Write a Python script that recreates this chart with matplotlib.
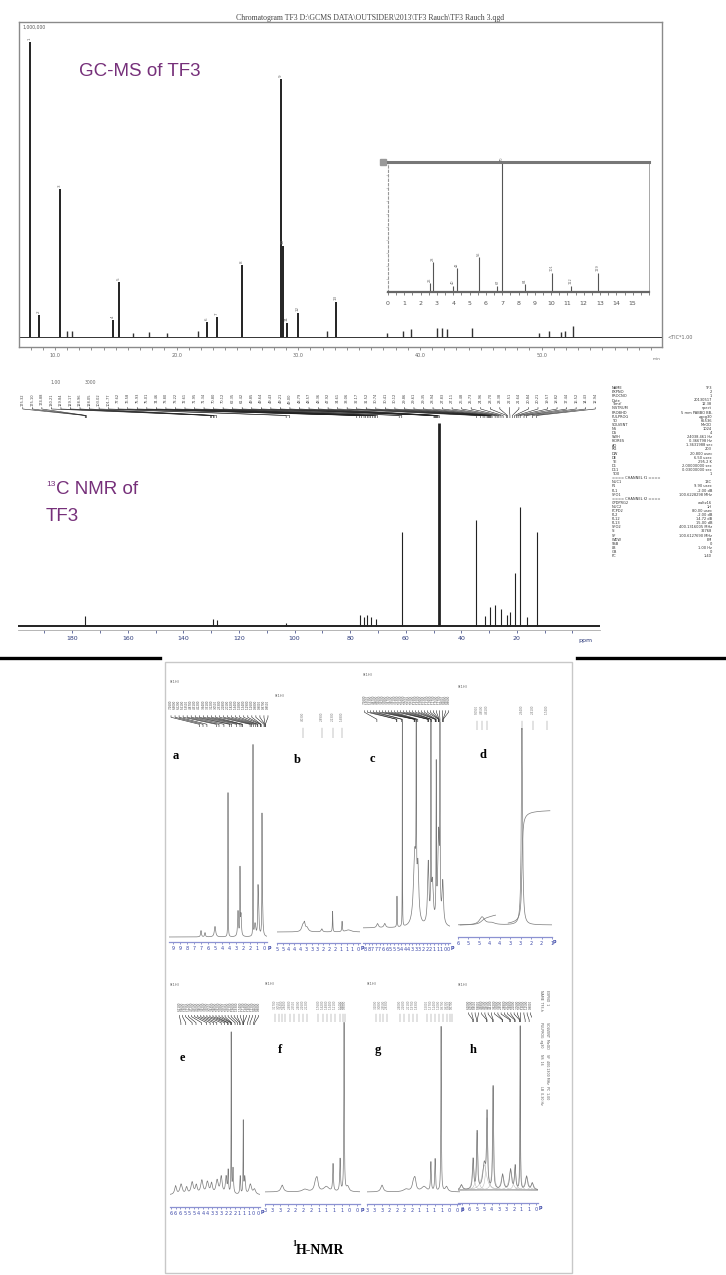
import numpy as np
import matplotlib.pyplot as plt
from matplotlib.lines import Line2D
from matplotlib.patches import Rectangle
from matplotlib.ticker import MultipleLocator, FormatStrFormatter

plt.rcParams['font.family'] = ['DejaVu Sans']

W, H = 726, 1275
PURPLE = '#76307a'
BLUE = '#3b47a8'
GREY = '#7a7a7a'
NARROW = ['Liberation Sans Narrow', 'Liberation Sans', 'DejaVu Sans']
SERIF = ['Liberation Serif', 'DejaVu Serif']

# GC-MS chromatogram: retention time (min) and relative height of the numbered peaks
gc_time = [7.95, 8.69, 10.41, 14.77, 15.26, 22.49, 23.31, 25.37, 28.57, 28.73, 29.06, 29.97, 33.09]
gc_height = [0.937, 0.07, 0.47, 0.054, 0.175, 0.048, 0.063, 0.23, 0.82, 0.29, 0.044, 0.076, 0.11]
# small baseline bumps of the chromatogram
gc_minor_time = [11.0, 11.4, 16.4, 17.7, 19.2, 21.8, 32.4, 37.3, 38.6, 39.3, 41.4, 41.8, 42.2,
                 44.3, 49.8, 50.6, 51.6, 51.9, 52.6]
gc_minor_height = [0.02, 0.018, 0.012, 0.015, 0.012, 0.02, 0.02, 0.012, 0.02, 0.025, 0.03, 0.03,
                   0.025, 0.028, 0.012, 0.018, 0.015, 0.02, 0.035]

# inset mass spectrum
ms_mz = [2.55, 2.76, 4.0, 4.23, 5.58, 6.7, 7.0, 8.4, 10.06, 11.2, 12.86]
ms_int = [0.07, 0.23, 0.05, 0.185, 0.27, 0.05, 1.0, 0.06, 0.15, 0.05, 0.15]
ms_tick_labels = ['0', '1', '2', '3', '4', '5', '6', '7', '8', '9', '10', '11', '12', '13', '14', '15']

# 13C NMR spectrum
c13_ppm = [175.3, 129.2, 128.0, 103.0, 76.6, 75.0, 73.8, 72.6, 70.8, 61.4, 47.9, 34.6, 31.5,
           29.6, 27.8, 25.7, 23.4, 22.5, 20.8, 18.8, 16.5, 12.9]
c13_height = [0.05, 0.035, 0.03, 0.015, 0.055, 0.045, 0.055, 0.045, 0.035, 0.45, 0.976, 0.51,
              0.05, 0.09, 0.1, 0.08, 0.055, 0.065, 0.255, 0.57, 0.045, 0.45]
c13_labels = [175.32, 175.10, 174.88, 130.21, 129.84, 129.17, 128.96, 128.05, 103.02, 101.77,
              77.62, 76.58, 75.93, 75.01, 74.46, 73.80, 73.22, 72.61, 71.95, 71.34, 70.80, 70.12,
              62.35, 61.42, 49.85, 49.64, 49.43, 49.21, 49.00, 48.79, 48.57, 48.36, 47.92, 34.61,
              33.06, 32.17, 31.52, 30.74, 30.41, 30.12, 29.86, 29.61, 29.35, 28.94, 27.83, 27.11,
              26.48, 25.73, 24.96, 23.70, 23.38, 22.51, 21.64, 20.84, 20.21, 19.57, 18.82, 17.44,
              16.52, 14.43, 12.94]
c13_param_names = ['NAME', 'EXPNO', 'PROCNO', 'Date_', 'Time', 'INSTRUM', 'PROBHD', 'PULPROG',
                   'TD', 'SOLVENT', 'NS', 'DS', 'SWH', 'FIDRES', 'AQ', 'RG', 'DW', 'DE', 'TE',
                   'D1', 'D11', 'TD0', '==== CHANNEL f1 ====', 'NUC1', 'P1', 'PL1', 'SFO1',
                   '==== CHANNEL f2 ====', 'CPDPRG2', 'NUC2', 'PCPD2', 'PL2', 'PL12', 'PL13',
                   'SFO2', 'SI', 'SF', 'WDW', 'SSB', 'LB', 'GB', 'PC']
c13_param_values = ['TF3', '2', '1', '20130517', '12.38', 'spect', '5 mm PABBO BB-', 'zgpg30',
                    '65536', 'MeOD', '1024', '4', '24038.461 Hz', '0.366798 Hz', '1.3631988 sec',
                    '203', '20.800 usec', '6.50 usec', '295.2 K', '2.00000000 sec',
                    '0.03000000 sec', '1', '', '13C', '9.90 usec', '-2.00 dB', '100.6228298 MHz',
                    '', 'waltz16', '1H', '80.00 usec', '-2.00 dB', '14.72 dB', '15.00 dB',
                    '400.1316005 MHz', '32768', '100.6127690 MHz', 'EM', '0', '1.00 Hz', '0', '1.40']

# 1H NMR panels a-h: peak shift (ppm), height, half width (ppm)
a_ppm = [7.0, 6.6, 5.6, 4.3, 3.3, 3.1, 3.0, 1.8, 1.6, 1.3, 1.25, 0.9, 0.85]
a_hgt = [0.03, 0.02, 0.05, 0.69, 0.12, 0.31, 0.10, 0.91, 0.06, 0.17, 0.12, 0.51, 0.15]
a_wid = [0.05, 0.05, 0.08, 0.015, 0.05, 0.02, 0.05, 0.01, 0.08, 0.03, 0.06, 0.015, 0.05]
a_labels = [7.26, 6.90, 6.52, 5.61, 5.35, 4.87, 4.31, 4.12, 3.64, 3.31, 3.12, 3.05, 2.33, 2.18,
            2.01, 1.82, 1.64, 1.58, 1.34, 1.29, 1.26, 0.98, 0.90, 0.87, 0.85]

b_ppm = [4.05, 3.95, 3.8, 2.9, 2.25, 1.68, 1.3]
b_hgt = [0.03, 0.035, 0.02, 0.015, 0.10, 0.05, 0.01]
b_wid = [0.08, 0.05, 0.1, 0.05, 0.015, 0.02, 0.2]
b_labels = [4.03, 2.89, 2.23, 1.68]

c_ppm = [7.2, 6.5, 5.32, 4.8, 3.6, 3.46, 3.3, 2.3, 2.04, 1.9, 1.53, 1.3, 1.17, 0.9]
c_hgt = [0.02, 0.02, 0.15, 1.3, 0.35, 1.3, 0.25, 0.3, 1.3, 0.2, 0.72, 0.45, 1.3, 0.2]
c_wid = [0.1, 0.1, 0.02, 0.01, 0.15, 0.015, 0.1, 0.08, 0.015, 0.1, 0.02, 0.1, 0.015, 0.08]
c_labels = [7.26, 5.35, 5.33, 4.87, 4.80, 3.66, 3.62, 3.58, 3.47, 3.45, 3.31, 2.33, 2.31, 2.29,
            2.05, 2.03, 2.01, 1.63, 1.61, 1.59, 1.53, 1.31, 1.29, 1.27, 1.25, 1.17, 0.90, 0.88, 0.86]

d_ppm = [4.85, 4.4, 2.94]
d_hgt = [0.04, 0.01, 1.0]
d_wid = [0.15, 0.2, 0.035]
d_labels = [5.09, 4.85, 4.61, 2.94, 2.41, 1.74]

e_ppm = [6.6, 6.2, 5.8, 5.4, 5.1, 4.7, 4.3, 4.0, 3.6, 3.3, 2.95, 2.8, 2.58, 2.45, 1.93, 1.71, 1.6, 1.2, 0.9]
e_hgt = [0.05, 0.06, 0.04, 0.07, 0.05, 0.08, 0.07, 0.06, 0.08, 0.1, 0.1, 0.13, 0.94, 0.15, 0.106, 0.42, 0.1, 0.06, 0.03]
e_wid = [0.08, 0.1, 0.08, 0.1, 0.08, 0.1, 0.1, 0.08, 0.1, 0.08, 0.06, 0.03, 0.012, 0.04, 0.03, 0.015, 0.05, 0.1, 0.1]
e_labels = [6.21, 5.86, 5.40, 5.12, 4.72, 4.35, 4.10, 3.85, 3.62, 3.30, 3.05, 2.84, 2.80, 2.62,
            2.58, 2.55, 2.30, 2.12, 1.96, 1.93, 1.74, 1.71, 1.68, 1.40, 1.22, 0.96, 0.88]

f_ppm = [2.94, 2.2, 1.85, 1.8, 1.5, 1.28, 1.05, 0.92, 0.8]
f_hgt = [0.04, 0.015, 0.05, 0.06, 0.03, 0.16, 0.19, 0.99, 0.03]
f_wid = [0.05, 0.1, 0.05, 0.04, 0.1, 0.015, 0.015, 0.01, 0.05]
f_labels = [3.17, 3.05, 2.94, 2.84, 2.68, 2.55, 2.40, 2.26, 2.12, 1.76, 1.62, 1.48, 1.34, 1.21,
            1.04, 0.96, 0.88]

g_ppm = [3.0, 2.2, 1.95, 1.9, 1.6, 1.37, 1.23, 1.03, 0.85]
g_hgt = [0.04, 0.015, 0.05, 0.06, 0.03, 0.17, 0.19, 0.97, 0.03]
g_wid = [0.05, 0.1, 0.05, 0.04, 0.1, 0.015, 0.015, 0.01, 0.05]
g_labels = [3.20, 3.08, 2.95, 2.83, 2.40, 2.26, 2.11, 1.97, 1.83, 1.50, 1.37, 1.24, 1.10, 0.97,
            0.83, 0.75, 0.67]

h_ppm = [7.2, 6.18, 5.83, 5.2, 4.96, 4.43, 3.6, 2.9, 2.5, 2.06, 1.5, 1.0]
h_hgt = [0.03, 0.18, 0.34, 0.15, 0.43, 0.61, 0.09, 0.12, 0.14, 0.97, 0.08, 0.04]
h_wid = [0.1, 0.06, 0.05, 0.15, 0.05, 0.04, 0.1, 0.1, 0.06, 0.02, 0.1, 0.1]
h_labels = [6.20, 6.15, 5.85, 5.80, 4.98, 4.95, 4.45, 4.41, 3.62, 3.58, 2.95, 2.88, 2.52, 2.48,
            2.10, 2.06, 2.02, 1.60, 1.25, 0.90]
h_params = ['NAME  TF3-h', 'EXPNO  1', 'PULPROG  zg30', 'SOLVENT  MeOD', 'NS  16',
            'SF  400.1300 MHz', 'LB  0.30 Hz', 'PC  1.00']


fig = plt.figure(figsize=(W / 100, H / 100), dpi=100)


def axes_px(x0, y0, x1, y1):
    ax = fig.add_axes([x0 / W, 1 - y1 / H, (x1 - x0) / W, (y1 - y0) / H])
    ax.patch.set_alpha(0)
    return ax


def text_px(x, y, s, **kw):
    fig.text(x / W, 1 - y / H, s, **kw)


# ---------------- GC-MS chromatogram ----------------
text_px(370, 18, r'Chromatogram TF3 D:\GCMS DATA\OUTSIDER\2013\TF3 Rauch\TF3 Rauch 3.qgd',
        fontsize=5.6, family=SERIF, color='#444444', ha='center', va='center')
gc = axes_px(19, 22, 662, 347)
gc.set_xlim(7.05, 59.9)
gc.set_ylim(-10 / 315, 1)
gc.axhline(0, color='#333333', lw=0.7)
gc.vlines(gc_minor_time, 0, gc_minor_height, color='#333333', lw=1.0)
gc.vlines(gc_time, 0, gc_height, color='#111111', lw=1.3)
for i, (t, h) in enumerate(zip(gc_time, gc_height)):
    gc.text(t, h + 0.006, str(i + 1), rotation=90, fontsize=3, ha='center', va='bottom', color='#666666')
for s in gc.spines.values():
    s.set_color('#8a8a8a')
    s.set_linewidth(1.0)
gc.set_yticks([])
gc.xaxis.set_major_locator(MultipleLocator(10))
gc.xaxis.set_minor_locator(MultipleLocator(1))
gc.xaxis.set_major_formatter(FormatStrFormatter('%.1f'))
gc.tick_params(axis='x', which='both', direction='out', length=2.5, width=0.5,
               labelsize=3.5, pad=1.5, colors='#666666')
gc.text(0.005, 0.993, '1,000,000', transform=gc.transAxes, fontsize=3.3, va='top', color='#555555')
text_px(668, 337, '<TIC*1.00', fontsize=3.5, va='center', color='#666666')
text_px(657, 359, 'min', fontsize=3, ha='center', va='center', color='#666666')
text_px(79, 72, 'GC-MS of TF3', fontsize=13.5, family=NARROW, color=PURPLE, va='center')

ins = axes_px(388, 162, 649, 292)
ins.set_xlim(0, 16)
ins.set_ylim(0, 1)
ins.vlines(ms_mz, 0, ms_int, color='#555555', lw=0.8)
for m, v in zip(ms_mz, ms_int):
    if v > 0.04:
        ins.text(m, v + 0.01, f'{m * 10:.0f}', rotation=90, fontsize=2.5, ha='center',
                 va='bottom', color='#666666')
ins.spines['top'].set_linewidth(2.2)
ins.spines['top'].set_color('#777777')
ins.spines['bottom'].set_linewidth(1.6)
ins.spines['bottom'].set_color('#666666')
ins.spines['right'].set_linewidth(0.6)
ins.spines['right'].set_color('#999999')
ins.spines['left'].set_linestyle((0, (2, 2)))
ins.spines['left'].set_color('#999999')
ins.set_xticks(range(16))
ins.set_xticklabels(ms_tick_labels)
ins.xaxis.set_minor_locator(MultipleLocator(0.5))
ins.tick_params(axis='x', which='both', direction='out', length=2.5, width=0.5,
                labelsize=4.5, pad=4, colors='#555555')
ins.set_yticks(np.linspace(0, 1, 11))
ins.set_yticklabels([])
ins.tick_params(axis='y', direction='out', length=1.5, width=0.4, colors='#aaaaaa')
ins.plot(-0.3, 1, 's', ms=4, color='#999999', clip_on=False)


# ---------------- 13C NMR ----------------
def fan_header(x0, x1, y0, y1, xlim, vals, fmt, fs=2.0):
    ax = axes_px(x0, y0, x1, y1)
    ax.set_xlim(*xlim)
    ax.set_ylim(0, 1)
    ax.axis('off')
    n = len(vals)
    span = xlim[0] - xlim[1]
    for i, v in enumerate(vals):
        p = xlim[0] - span * (i + 0.5) / n
        ax.text(p, 1.0, fmt.format(v), rotation=90, fontsize=fs, va='top', ha='center', color='#444444')
        ax.plot([p, p, v, v], [0.42, 0.36, 0.1, 0], color='#222222', lw=0.4)
    return ax


c13_xlim = (199.5, -9.9)
text_px(50, 383, '1.00', fontsize=3.3, color='#666666', va='center')
text_px(85, 383, '3000', fontsize=3.3, color='#666666', va='center')
fan_header(18, 600, 393, 418, c13_xlim, c13_labels, '{:.2f}', fs=2.6)

c13 = axes_px(18, 418, 600, 630)
c13.set_xlim(*c13_xlim)
c13.set_ylim(-4 / 208, 1)
c13.axhline(0, color='#222222', lw=1.4)
c13.vlines(c13_ppm, 0, c13_height, color='#222222', lw=[2.0 if h > 0.9 else 0.8 for h in c13_height])
for s in ['top', 'left', 'right']:
    c13.spines[s].set_visible(False)
c13.spines['bottom'].set_color('#aaaaaa')
c13.spines['bottom'].set_linewidth(0.6)
c13.set_yticks([])
c13.set_xticks(range(180, 0, -20))
c13.xaxis.set_minor_locator(MultipleLocator(10))
c13.tick_params(axis='x', which='both', direction='out', length=2, width=0.5,
                labelsize=4.5, pad=2, colors='#2c3a7a')
text_px(585, 641, 'ppm', fontsize=4.5, color='#2c3a7a', ha='center', va='center')
text_px(46, 488, '13', fontsize=6, family=NARROW, color=PURPLE, va='bottom')
text_px(56, 490, 'C NMR of', fontsize=13.5, family=NARROW, color=PURPLE, va='center')
text_px(46, 516, 'TF3', fontsize=13.5, family=NARROW, color=PURPLE, va='center')

for i, (nm, val) in enumerate(zip(c13_param_names, c13_param_values)):
    yy = 388 + i * 4.1
    text_px(612, yy, nm, fontsize=2.6, color='#333333', va='center')
    text_px(712, yy, val, fontsize=2.6, color='#333333', va='center', ha='right')

# ---------------- 1H NMR composite ----------------
fig.add_artist(Line2D([0, 160 / W], [1 - 658 / H] * 2, color='black', lw=2.4))
fig.add_artist(Line2D([577 / W, 1], [1 - 658 / H] * 2, color='black', lw=2.4))
fig.add_artist(Rectangle((165 / W, 1 - 1273 / H), 407 / W, 611 / H, fill=False,
                         edgecolor='#c8c8c8', lw=1.0))


def lorentz_sum(xs, ppm, hgt, wid):
    ys = np.zeros_like(xs)
    for p, h, w in zip(ppm, hgt, wid):
        ys += h / (1 + ((xs - p) / w) ** 2)
    return ys


def panel(x0, x1, top, base, axis, xlim, ppm, hgt, wid, step, parts=False):
    ax = axes_px(x0, top, x1, axis)
    xs = np.linspace(xlim[0], xlim[1], 4000)
    ys = lorentz_sum(xs, ppm, hgt, wid)
    if parts:
        for p, h, w in zip(ppm, hgt, wid):
            ax.plot(xs, h / (1 + ((xs - p) / (w * 1.6)) ** 2), color='#b5b5b5', lw=0.35)
    ax.plot(xs, ys, color=GREY, lw=0.5)
    ax.set_xlim(*xlim)
    ax.set_ylim(-(axis - base) / (base - top), 1)
    for s in ['top', 'left', 'right']:
        ax.spines[s].set_visible(False)
    ax.spines['bottom'].set_color('#8c92d2')
    ax.spines['bottom'].set_linewidth(0.9)
    ax.set_yticks([])
    ax.xaxis.set_major_locator(MultipleLocator(step))
    ax.xaxis.set_major_formatter(FormatStrFormatter('%d'))
    ax.tick_params(axis='x', length=1.2, width=0.4, pad=1.5, labelsize=3.5, colors=BLUE)
    ax.annotate('p', xy=(1, 0), xycoords='axes fraction', xytext=(0.5, -1.8),
                textcoords='offset points', va='top', fontsize=3.6, color=BLUE, weight='bold')
    return ax, xs, ys


def tick_header(x0, x1, y0, y1, xlim, vals):
    ax = axes_px(x0, y0, x1, y1)
    ax.set_xlim(*xlim)
    ax.set_ylim(0, 1)
    ax.axis('off')
    for v in vals:
        ax.text(v, 1.0, f'{v:.4f}', rotation=90, fontsize=2.0, va='top', ha='center', color='#777777')
        ax.plot([v, v], [0.38, 0], color='#777777', lw=0.3)


def integral(ax, xs, ys, lo, hi, y0, rise):
    m = (xs <= hi) & (xs >= lo)
    c = np.cumsum(ys[m])
    ax.plot(xs[m], y0 + rise * c / c[-1], color=GREY, lw=0.5)


def header_text(x, y):
    text_px(x, y, 'δ(1H)', fontsize=2.6, color='#666666', va='center')


def letter(x, y, s):
    text_px(x, y, s, fontsize=9, family=SERIF, weight='bold', va='center', ha='center')


# row 1
header_text(170, 682)
fan_header(169, 270, 700, 727, (10.2, 0.4), a_labels, '{:.4f}')
panel(169, 267, 727, 937, 942, (10.2, 0.4), a_ppm, a_hgt, a_wid, 0.7)
letter(176, 756, 'a')

header_text(275, 696)
tick_header(277, 360, 712, 738, (5.6, 0.6), b_labels)
panel(277, 360, 727, 932, 943, (5.6, 0.6), b_ppm, b_hgt, b_wid, 0.35)
letter(297, 760, 'b')

header_text(363, 675)
fan_header(363, 450, 695, 722, (8.6, 0.2), c_labels, '{:.4f}')
panel(363, 450, 722, 928, 943, (8.6, 0.2), c_ppm, c_hgt, c_wid, 0.35)
letter(372, 759, 'c')

header_text(458, 687)
tick_header(458, 552, 705, 730, (6.0, 1.5), d_labels)
ax_d, xs_d, ys_d = panel(458, 552, 728, 925, 937, (6.0, 1.5), d_ppm, d_hgt, d_wid, 0.5)
integral(ax_d, xs_d, ys_d, 4.2, 5.9, 0.0, 0.05)
integral(ax_d, xs_d, ys_d, 1.6, 3.6, 0.01, 0.57)
letter(483, 755, 'd')

# row 2
header_text(170, 985)
fan_header(178, 260, 1002, 1025, (6.42, 0.5), e_labels, '{:.4f}')
panel(170, 260, 1025, 1195, 1207, (7.0, 0.5), e_ppm, e_hgt, e_wid, 0.33)
letter(182, 1058, 'e')

header_text(265, 984)
tick_header(265, 360, 1000, 1022, (3.5, 0.4), f_labels)
panel(265, 360, 1022, 1192, 1204, (3.5, 0.4), f_ppm, f_hgt, f_wid, 0.25)
letter(280, 1050, 'f')

header_text(367, 984)
tick_header(367, 460, 1000, 1022, (3.5, 0.4), g_labels)
panel(367, 460, 1022, 1192, 1204, (3.5, 0.4), g_ppm, g_hgt, g_wid, 0.25)
letter(378, 1050, 'g')

header_text(458, 985)
fan_header(467, 532, 1000, 1022, (6.71, 1.0), h_labels, '{:.4f}')
panel(458, 538, 1022, 1190, 1203, (7.5, 0.5), h_ppm, h_hgt, h_wid, 0.65, parts=True)
letter(473, 1050, 'h')
for i, s in enumerate(h_params):
    text_px(541 + (i % 2) * 6, 990 + (i // 2) * 32, s, fontsize=2.3, rotation=270,
            color='#555555', va='top', ha='center')

text_px(292, 1244, '1', fontsize=6, family=SERIF, weight='bold', va='center')
text_px(296, 1250, 'H-NMR', fontsize=10, family=SERIF, weight='bold', va='center')

fig.savefig('out.png', dpi=100)
